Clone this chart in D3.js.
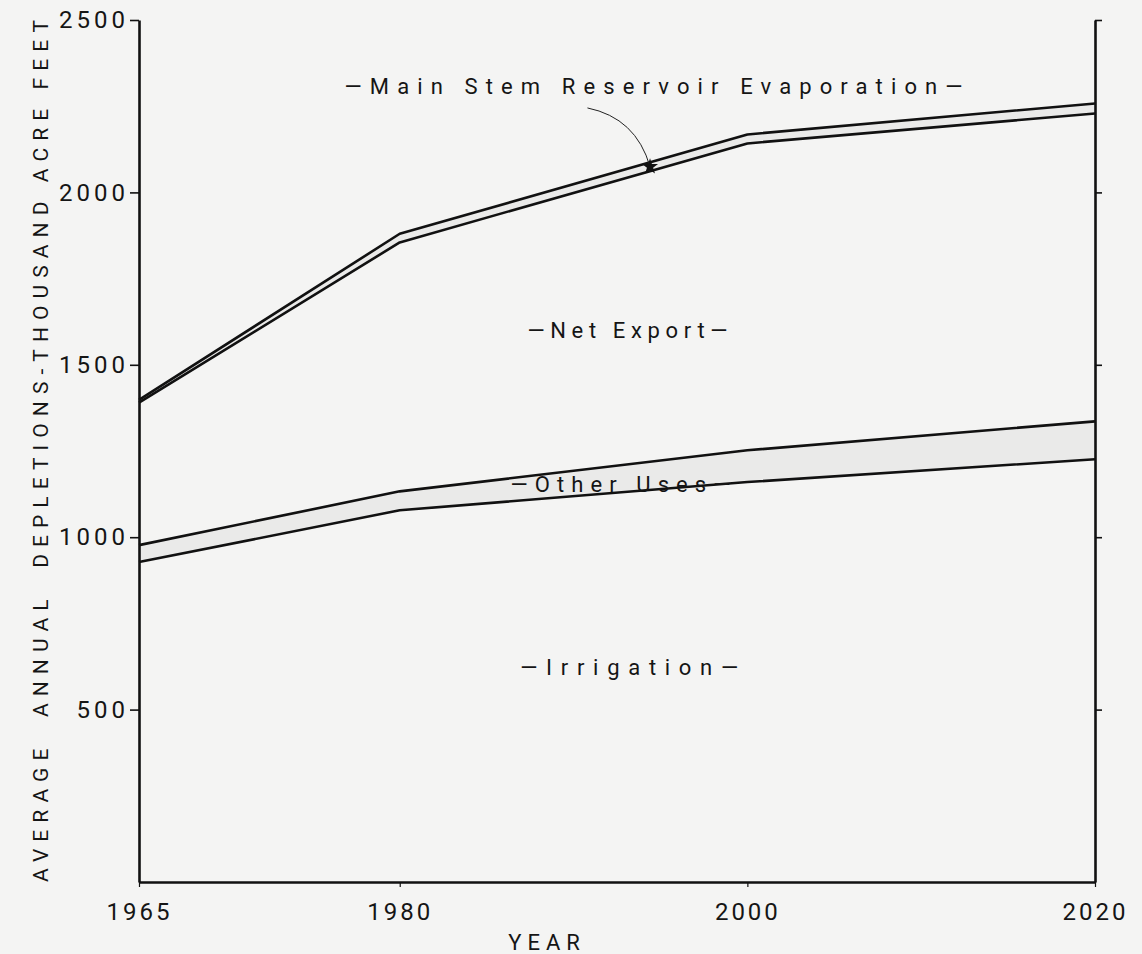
<!DOCTYPE html>
<html>
<head>
<meta charset="utf-8">
<script src="https://cdn.jsdelivr.net/npm/d3@7"></script>
<style>
  html, body { margin: 0; padding: 0; background: #f4f4f3; }
  svg { display: block; }
  text { font-family: Roboto, "DejaVu Sans", sans-serif; font-weight: 400; fill: #151515; }
</style>
</head>
<body>
<svg id="chart" width="1142" height="954"></svg>
<script>
// Projected average annual depletions, thousand acre-feet (stacked components)
const years       = [1965, 1980, 2000, 2020];
const irrigation  = [928, 1078, 1160, 1226];
const otherUses   = [49, 55, 92, 110];
const netExport   = [413, 722, 890, 893];
const evaporation = [8, 25, 26, 29];

const seriesKeys = ["irrigation", "otherUses", "netExport", "evaporation"];
const yTicks = [500, 1000, 1500, 2000, 2500];
const xTicks = [1965, 1980, 2000, 2020];

const rows = years.map((yr, i) => ({
  year: yr,
  irrigation: irrigation[i],
  otherUses: otherUses[i],
  netExport: netExport[i],
  evaporation: evaporation[i]
}));

const svg = d3.select("#chart");
const x = d3.scaleLinear().domain([1965, 2020]).range([139, 1095]);
const y = d3.scaleLinear().domain([0, 2500]).range([882, 20]);

const stacked = d3.stack().keys(seriesKeys)(rows);

// band fills: the thin "other uses" and "evaporation" strips are shaded
const fills = { irrigation: "none", otherUses: "#eaeae9", netExport: "none", evaporation: "#eaeae9" };
const area = d3.area().x(d => x(d.data.year)).y0(d => y(d[0])).y1(d => y(d[1]));
svg.append("g").selectAll("path").data(stacked).join("path")
  .attr("d", area)
  .attr("fill", d => fills[d.key]);

// boundary lines (top of each stacked layer)
const line = d3.line().x(d => x(d.data.year)).y(d => y(d[1]));
svg.append("g").selectAll("path").data(stacked).join("path")
  .attr("d", line)
  .attr("fill", "none")
  .attr("stroke", "#111")
  .attr("stroke-width", 2.6)
  .attr("stroke-linejoin", "round");

// axes
const axisStyle = g => {
  g.selectAll(".domain").attr("stroke", "#111").attr("stroke-width", 2.6);
  g.selectAll(".tick line").attr("stroke", "#111").attr("stroke-width", 1.6);
};
const tickText = sel => sel
  .attr("font-size", 24)
  .style("font-family", "Roboto, sans-serif").style("font-weight", 400).attr("fill", "#151515");

const leftAxis = svg.append("g")
  .attr("transform", `translate(${x(1965)},0)`)
  .call(d3.axisLeft(y).tickValues(yTicks).tickSize(9).tickSizeOuter(0).tickPadding(1).tickFormat(d3.format("d")))
  .call(axisStyle);
leftAxis.selectAll(".tick text").call(tickText).attr("letter-spacing", "4px");

svg.append("g")
  .attr("transform", `translate(${x(2020)},0)`)
  .call(d3.axisRight(y).tickValues(yTicks).tickSize(7).tickSizeOuter(0).tickFormat(""))
  .call(axisStyle);

const bottomAxis = svg.append("g")
  .attr("transform", `translate(0,${y(0)})`)
  .call(d3.axisBottom(x).tickValues(xTicks).tickSize(5).tickSizeOuter(0).tickPadding(16).tickFormat(d3.format("d")))
  .call(axisStyle);
bottomAxis.selectAll(".tick line").attr("stroke-width", 1.2);
bottomAxis.selectAll(".tick text").call(tickText).attr("letter-spacing", "3px");

// axis titles
svg.append("text")
  .attr("transform", `translate(48,${(y(0) + y(2500)) / 2}) rotate(-90)`)
  .attr("text-anchor", "middle")
  .attr("font-size", 21)
  .attr("textLength", 862)
  .attr("lengthAdjust", "spacing")
  .style("white-space", "pre")
  .text("AVERAGE  ANNUAL  DEPLETIONS-THOUSAND ACRE FEET");

svg.append("text")
  .attr("x", 547).attr("y", 950)
  .attr("text-anchor", "middle")
  .attr("font-size", 22)
  .attr("letter-spacing", "6px")
  .text("YEAR");

// layer labels
const labels = [
  { text: "—Main Stem Reservoir Evaporation—", year: 1994.6, value: 2285, width: 618 },
  { text: "—Net Export—",  year: 1993.1, value: 1578, width: 200 },
  { text: "—Other Uses—",  year: 1992.7, value: 1130, width: 220 },
  { text: "—Irrigation—",  year: 1993.2, value: 600,  width: 218 }
];
svg.append("g").selectAll("text").data(labels).join("text")
  .attr("x", d => x(d.year))
  .attr("y", d => y(d.value))
  .attr("text-anchor", "middle")
  .attr("font-size", 22)
  .attr("textLength", d => d.width)
  .attr("lengthAdjust", "spacing")
  .text(d => d.text);

// leader from the evaporation label down to its thin band
const starYear = 1994.4;
const interp = (arr) => d3.scaleLinear().domain(years).range(arr);
const topNet = interp(stacked[2].map(d => d[1]))(starYear);
const topEvap = interp(stacked[3].map(d => d[1]))(starYear);
const sx = x(starYear), sy = y((topNet + topEvap) / 2);
const lx = x(1990.8), ly = y(2245);
svg.append("path")
  .attr("d", `M${lx},${ly} Q${sx - 14},${ly + 10} ${sx},${sy}`)
  .attr("fill", "none")
  .attr("stroke", "#222")
  .attr("stroke-width", 1);
svg.append("path")
  .attr("transform", `translate(${sx},${sy})`)
  .attr("d", d3.symbol(d3.symbolStar, 80)())
  .attr("fill", "#111");
</script>
</body>
</html>
